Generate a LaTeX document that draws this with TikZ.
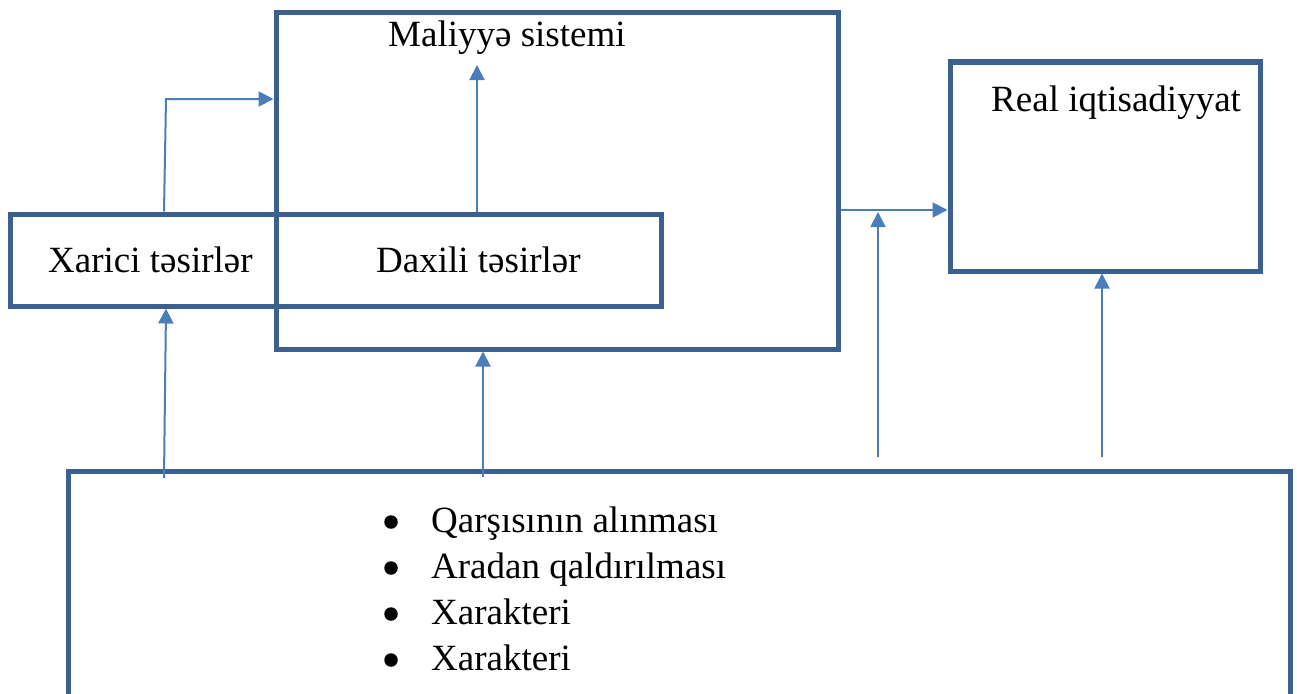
\documentclass[tikz,border=0pt]{standalone}
\usepackage{fontspec}
\setmainfont{Liberation Serif}
\usetikzlibrary{arrows.meta}
\definecolor{boxblue}{RGB}{59,95,142}
\definecolor{arrblue}{RGB}{74,126,187}
\tikzset{
  frame/.style={draw=boxblue, line width=5pt, rectangle, inner sep=0pt, fill=none},
  conn/.style={draw=arrblue, line width=2pt, -{Triangle[length=15pt,width=15pt]}},
  txt/.style={inner sep=0pt, anchor=base west, font=\fontsize{37}{45}\selectfont},
  dot/.style={circle, fill=black, inner sep=0pt, minimum size=13.5pt}
}
\begin{document}
\begin{tikzpicture}[x=1pt,y=-1pt]
\useasboundingbox (0,0) rectangle (1297,693);
% boxes
\node[frame, minimum width=651pt, minimum height=92pt] (tes) at (335.5,260) {};
\node[frame, minimum width=562pt, minimum height=336pt] (mal) at (557,181) {};
\node[frame, minimum width=310pt, minimum height=209pt] (real) at (1105,166.5) {};
\node[frame, minimum width=1222pt, minimum height=260pt] (bot) at (679,601) {};
% texts
\node[txt] (tmal) at (388,46) {Maliyyə sistemi};
\node[txt] (txar) at (48,272) {Xarici təsirlər};
\node[txt] (tdax) at (376,272) {Daxili təsirlər};
\node[txt] (treal) at (991,111) {Real iqtisadiyyat};
\node[txt] (l1) at (431,532) {Qarşısının alınması};
\node[txt] (l2) at (431,578) {Aradan qaldırılması};
\node[txt] (l3) at (431,624) {Xarakteri};
\node[txt] (l4) at (431,670) {Xarakteri};
\node[dot] (b1) at (391,522) {};
\node[dot] (b2) at (391,568) {};
\node[dot] (b3) at (391,614) {};
\node[dot] (b4) at (391,660) {};
% free ends
\coordinate (c1) at (166,99);
\coordinate (c2) at (477,65);
\coordinate (c4) at (878,457);
\coordinate (c5) at (1102,457);
\coordinate (c6) at (164,478);
\coordinate (c7) at (483,477);
% connectors
\draw[conn] (164,0 |- tes.north) -- (c1) -- (mal.west |- c1);
\draw[conn] (477,0 |- tes.north) -- (c2);
\draw[conn] (mal.east |- 0,210) -- (real.west |- 0,210);
\draw[conn] (c4) -- (878,212);
\draw[conn] (c5) -- (c5 |- real.south);
\draw[conn] (c6) -- (166,0 |- tes.south);
\draw[conn] (c7) -- (c7 |- mal.south);
\end{tikzpicture}
\end{document}
